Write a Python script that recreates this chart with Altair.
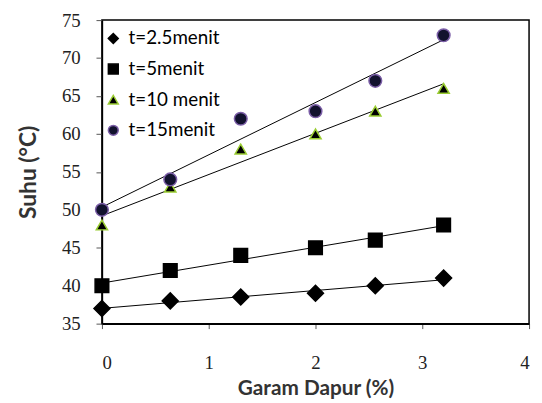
import altair as alt
import pandas as pd

garam = [0, 0.64, 1.3, 2, 2.56, 3.2]
series_names = ["t=2.5menit", "t=5menit", "t=10 menit", "t=15menit"]
suhu_25 = [37, 38, 38.5, 39, 40, 41]
suhu_5 = [40, 42, 44, 45, 46, 48]
suhu_10 = [48, 53, 58, 60, 63, 66]
suhu_15 = [50, 54, 62, 63, 67, 73]

rows = []
for name, vals in zip(series_names, [suhu_25, suhu_5, suhu_10, suhu_15]):
    for x, y in zip(garam, vals):
        rows.append({"garam": x, "suhu": y, "seri": name})
df = pd.DataFrame(rows)

xs = alt.X("garam:Q", title="Garam Dapur (%)",
           scale=alt.Scale(domain=[0, 4], nice=False),
           axis=alt.Axis(values=[0, 1, 2, 3, 4], format="d", tickSize=5,
                         labelPadding=25, titlePadding=6, titleFontSize=21))
ys = alt.Y("suhu:Q", title="Suhu (°C)",
           scale=alt.Scale(domain=[35, 75], nice=False, zero=False),
           axis=alt.Axis(values=[35, 40, 45, 50, 55, 60, 65, 70, 75], tickSize=6,
                         labelPadding=16, titlePadding=21, titleFontSize=23))

base = alt.Chart(df)

lines = base.transform_regression(
    "garam", "suhu", groupby=["seri"], extent=[0, 3.2]
).mark_line(color="black", strokeWidth=1).encode(
    x=xs, y=ys, detail="seri:N"
)

dom = series_names
leg = dict(title=None, orient="none", legendX=2, legendY=9,
           labelFont="Lato", labelFontSize=19, labelColor="black",
           symbolSize=100, rowPadding=11, labelOffset=6)

enc = dict(
    x=xs, y=ys,
    shape=alt.Shape("seri:N",
                    scale=alt.Scale(domain=dom,
                                    range=["diamond", "square", "triangle-up", "circle"]),
                    legend=alt.Legend(**leg)),
    fill=alt.Fill("seri:N",
                  scale=alt.Scale(domain=dom,
                                  range=["black", "black", "black", "#12122e"]),
                  legend=alt.Legend(**leg)),
    stroke=alt.Stroke("seri:N",
                      scale=alt.Scale(domain=dom,
                                      range=["black", "black", "#9acd32", "#7b5ea7"]),
                      legend=alt.Legend(**leg)),
)

marker_sizes = [260, 190, 130, 165]
point_layers = [
    base.transform_filter(alt.datum.seri == name)
    .mark_point(filled=True, opacity=1, strokeWidth=1.5, size=sz)
    .encode(**enc)
    for name, sz in zip(series_names, marker_sizes)
]

chart = alt.layer(lines, *point_layers).properties(
    width=432, height=307,
    autosize=alt.AutoSizeParams(type="none"),
    padding={"left": 95, "top": 10, "right": 5, "bottom": 76},
).configure_view(
    stroke="black", strokeWidth=1.5
).configure_axis(
    grid=False, domainColor="black", domainWidth=1.5, tickColor="#555555",
    labelFont="Liberation Serif", labelFontSize=19, labelColor="#222222",
    titleFont="Lato", titleFontWeight="bold", titleColor="#333333"
)

chart.save("out.html", embed_options={"renderer": "svg", "actions": False})
